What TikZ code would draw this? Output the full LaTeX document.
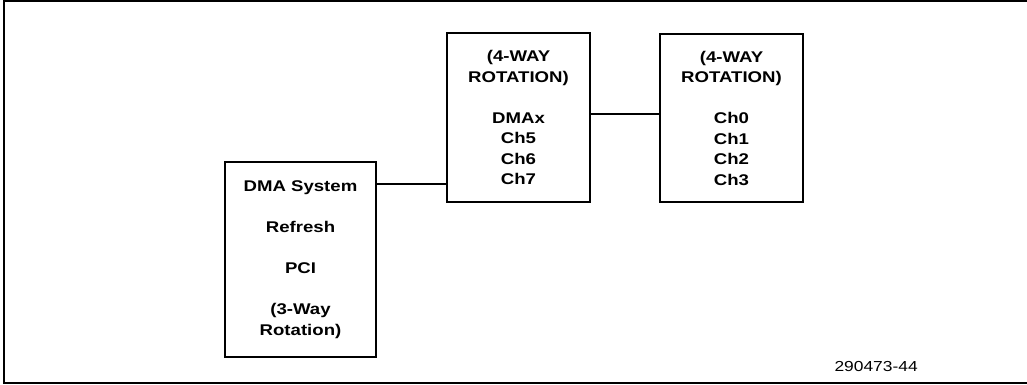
\documentclass[tikz,border=0pt]{standalone}
\usepackage{fontspec}
\setmainfont{Liberation Sans}[FakeStretch=1.2]
\begin{document}
\begin{tikzpicture}[x=1pt,y=-1pt,
  blk/.style={draw,line width=2.6pt,rectangle,inner sep=0pt,align=center,
    font={\fontsize{15.5}{20.5}\selectfont\bfseries}},
  conn/.style={line width=2.4pt},
  frame/.style={line width=2pt}]
\useasboundingbox (0,0) rectangle (1027,385);
\draw[frame] (1030,1.5) -- (4,1.5) -- (4,383) -- (1030,383);
\node[blk,minimum width=151pt,minimum height=195pt] (left) at (300.5,259.5)
  {DMA System\\[20.5pt] Refresh\\[20.5pt] PCI\\[20.5pt] (3-Way\\ Rotation)};
\node[blk,minimum width=143pt,minimum height=169pt] (mid) at (518.5,117.5)
  {(4-WAY\\ ROTATION)\\[20.5pt] DMAx\\ Ch5\\ Ch6\\ Ch7};
\node[blk,minimum width=143pt,minimum height=168pt] (right) at (731.5,118)
  {(4-WAY\\ ROTATION)\\[20.5pt] Ch0\\ Ch1\\ Ch2\\ Ch3};
\coordinate (c1) at (0,184);
\coordinate (c2) at (0,114);
\draw[conn] (left.east |- c1) -- (mid.west |- c1);
\draw[conn] (mid.east |- c2) -- (right.west |- c2);
\node[font={\fontsize{14.5}{16}\selectfont},anchor=west] (lbl) at (831,367) {290473-44};
\end{tikzpicture}
\end{document}
